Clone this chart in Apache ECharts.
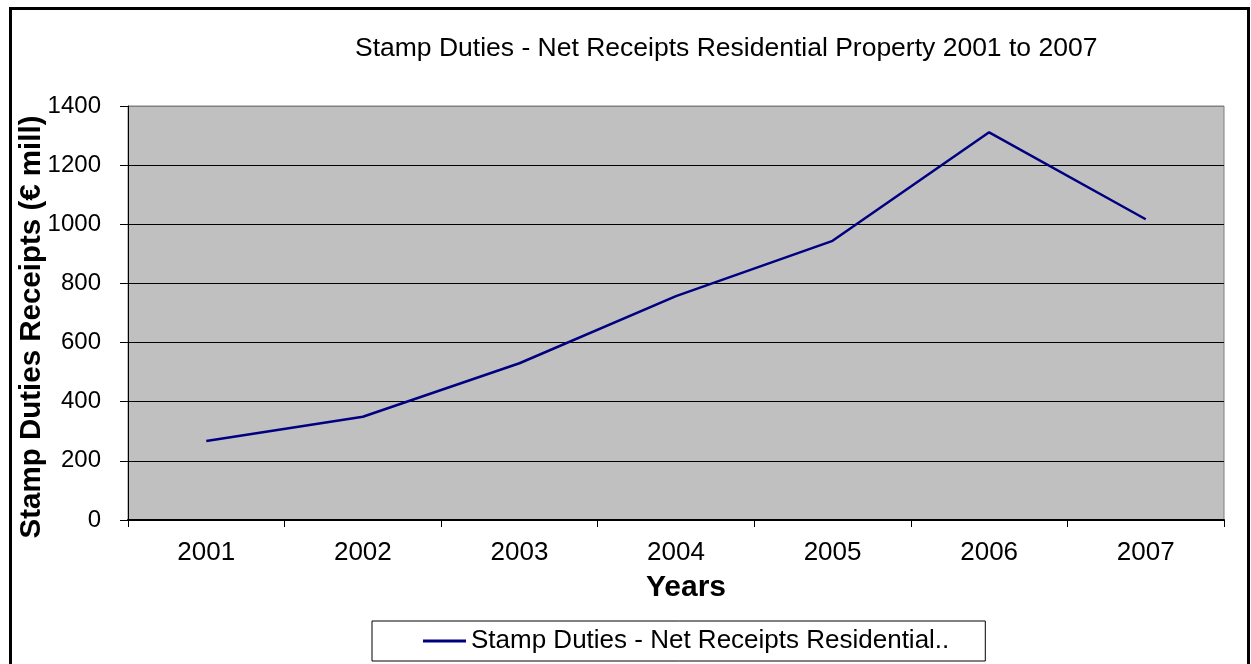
<!DOCTYPE html>
<html>
<head>
<meta charset="utf-8">
<script src="https://cdn.jsdelivr.net/npm/echarts@6/dist/echarts.min.js"></script>
<style>html,body{margin:0;padding:0;background:#fff;}#c{width:1251px;height:664px;}</style>
</head>
<body>
<div id="c"></div>
<script>
const categories = ['2001', '2002', '2003', '2004', '2005', '2006', '2007'];
const receipts = [267, 349, 530, 757, 944, 1311, 1017];
const seriesName = 'Stamp Duties - Net Receipts Residential..';
const titleText = 'Stamp Duties - Net Receipts Residential Property 2001 to 2007';
const yAxisName = 'Stamp Duties Receipts (€ mill)';
const xAxisName = 'Years';

const FONT = '"Liberation Sans", Arial, sans-serif';
const chart = echarts.init(document.getElementById('c'), null, {renderer: 'canvas'});
chart.setOption({
  animation: false,
  backgroundColor: '#ffffff',
  textStyle: {fontFamily: FONT},
  title: {
    text: titleText,
    left: 355, top: 35, padding: 0,
    textStyle: {fontFamily: FONT, fontSize: 26.5, fontWeight: 'normal', color: '#000'}
  },
  graphic: [{
    type: 'rect', left: 8, top: 6, z: 100, silent: true,
    shape: {width: 1238, height: 720},
    style: {fill: 'none', stroke: '#000', lineWidth: 3}
  }],
  legend: {
    data: [{name: seriesName, icon: 'rect'}],
    left: 372, top: 621,
    padding: [7, 36, 7, 51],
    borderColor: '#000', borderWidth: 1,
    itemWidth: 43, itemHeight: 3, itemStyle: {color: '#000080'},
    textStyle: {fontFamily: FONT, fontSize: 26, color: '#000'}
  },
  grid: {
    left: 128, top: 106, right: 27, bottom: 144,
    outerBoundsMode: 'none', containLabel: false,
    show: true, backgroundColor: '#c0c0c0', borderColor: '#808080', borderWidth: 1
  },
  xAxis: {
    type: 'category',
    data: categories,
    boundaryGap: true,
    name: xAxisName,
    nameLocation: 'middle',
    nameGap: 53,
    nameMoveOverlap: false,
    nameTextStyle: {fontFamily: FONT, fontSize: 30, fontWeight: 'bold', color: '#000', padding: [0, 0, 0, 20]},
    axisLine: {show: true, lineStyle: {color: '#000', width: 2}},
    axisTick: {show: true, length: 7, lineStyle: {color: '#000', width: 1}},
    axisLabel: {margin: 20, fontFamily: FONT, fontSize: 26, color: '#000'},
    splitLine: {show: false}
  },
  yAxis: {
    type: 'value',
    min: 0, max: 1400, interval: 200,
    name: yAxisName,
    nameLocation: 'middle',
    nameGap: 81,
    nameMoveOverlap: false,
    nameTextStyle: {fontFamily: FONT, fontSize: 29.5, fontWeight: 'bold', color: '#000', padding: [0, 28, 0, 0]},
    axisLine: {show: true, lineStyle: {color: '#000', width: 1}},
    axisTick: {show: true, length: 8, lineStyle: {color: '#000', width: 1}},
    axisLabel: {margin: 27, fontFamily: FONT, fontSize: 24, color: '#000', formatter: function (v) { return String(v); }},
    splitLine: {show: true, lineStyle: {color: ['#000', '#000', '#000', '#000', '#000', '#000', '#000', '#808080'], width: 1}}
  },
  series: [{
    name: seriesName,
    type: 'line',
    data: receipts,
    symbol: 'none',
    lineStyle: {color: '#000080', width: 2.5},
    itemStyle: {color: '#000080'}
  }]
});
</script>
</body>
</html>
